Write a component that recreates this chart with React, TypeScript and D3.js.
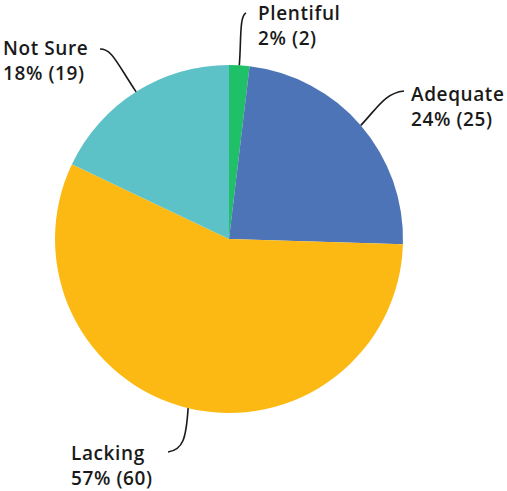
import React from "react";
import * as d3 from "d3";

const categories = ["Plentiful", "Adequate", "Lacking", "Not Sure"];
const values = [2, 25, 60, 19];
const percents = ["2%", "24%", "57%", "18%"];
const colors = ["#20c068", "#4e74b8", "#fdb913", "#5cc2c7"];

// label layout: [text x, first baseline y, line end x, line end y]
const labelPos: [number, number, number, number][] = [
  [258, 20, 246, 13],
  [411, 101, 404, 91],
  [71, 460, 168, 452],
  [3, 55, 100, 49],
];

export default function App() {
  const W = 507, H = 491;
  const cx = 229, cy = 239, r = 174;
  const pie = d3.pie<number>().sort(null).value((d) => d);
  const arcs = pie(values);
  const arc = d3.arc<d3.PieArcDatum<number>>().innerRadius(0).outerRadius(r);
  const edge = d3.arc<d3.PieArcDatum<number>>().innerRadius(r).outerRadius(r);

  return (
    <svg width={W} height={H} style={{ position: "absolute", left: 0, top: 0, background: "#fff" }}>
      <g transform={`translate(${cx},${cy})`}>
        {arcs.map((a, i) => (
          <path key={i} d={arc(a) || ""} fill={colors[i]} />
        ))}
      </g>
      {arcs.map((a, i) => {
        const [ex, ey] = edge.centroid(a);
        const sx = cx + ex, sy = cy + ey;
        const [, , lx, ly] = labelPos[i];
        let d = "";
        if (i === 0) d = `M${sx},${sy} C${sx + 2},${sy - 25} ${sx},${ly + 3} ${lx},${ly}`;
        else if (i === 1) d = `M${sx},${sy} C${sx + 17},${sy - 18} ${lx - 19},${ly + 2} ${lx},${ly}`;
        else if (i === 2) d = `M${sx},${sy} C${sx - 2},${sy + 30} ${sx - 5},${ly - 2} ${lx},${ly}`;
        else d = `M${sx},${sy} C${sx - 20},${sy - 30} ${lx + 12},${ly} ${lx},${ly}`;
        return <path key={"l" + i} d={d} fill="none" stroke="#1a1a1a" strokeWidth={1.6} />;
      })}
      {categories.map((c, i) => {
        const [tx, ty] = labelPos[i];
        return (
          <text key={"t" + i} x={tx} y={ty} fontFamily="'Open Sans', sans-serif" fontWeight={600} fontSize={19} letterSpacing={0.6} fill="#1a1a1a">
            <tspan x={tx} y={ty}>{c}</tspan>
            <tspan x={tx} y={ty + 25}>{`${percents[i]} (${values[i]})`}</tspan>
          </text>
        );
      })}
    </svg>
  );
}
